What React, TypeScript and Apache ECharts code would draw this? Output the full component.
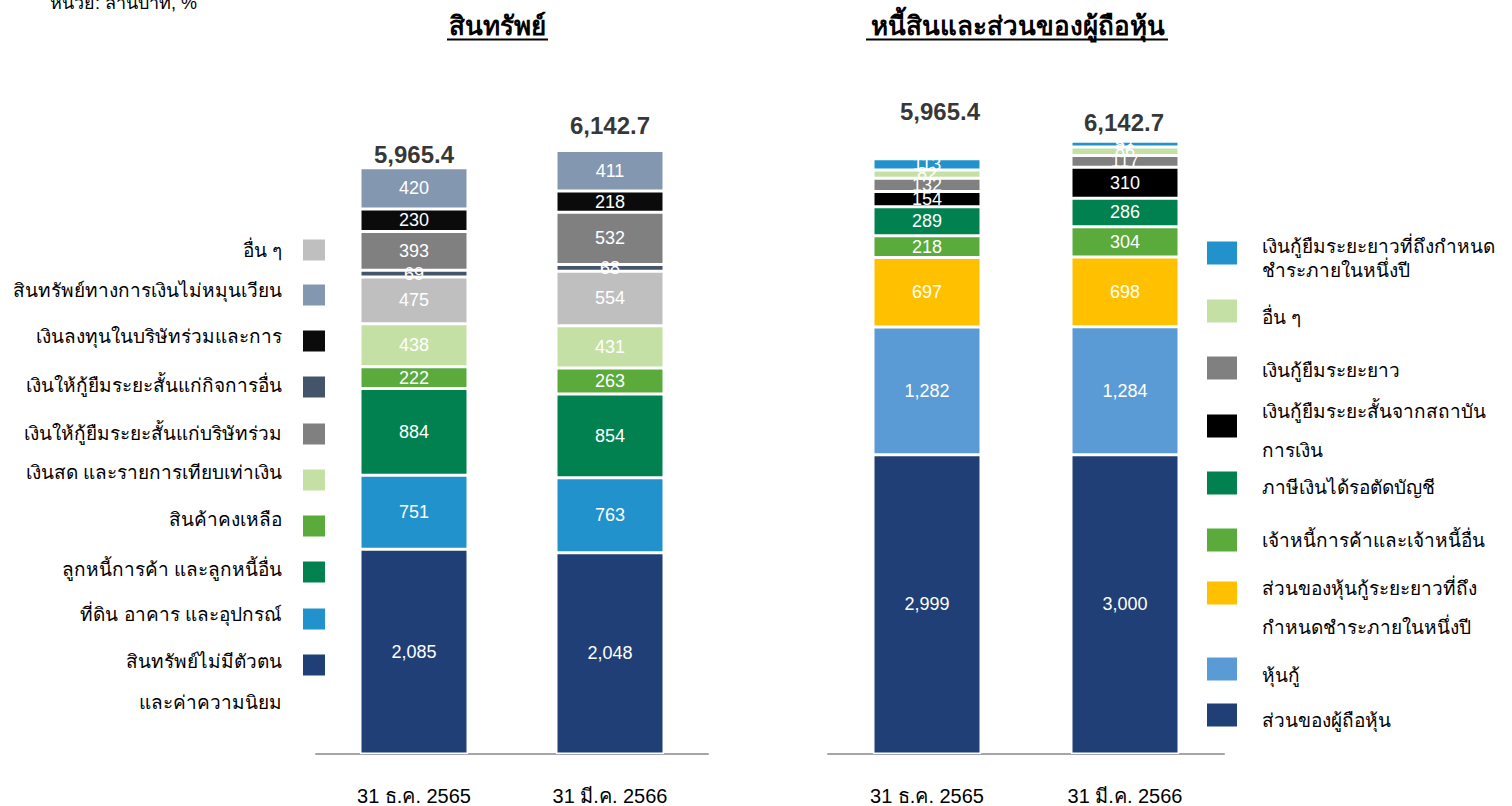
import React, { useEffect, useRef } from "react";
import * as echarts from "echarts";

// ---------- data ----------
const categories = ["31 ธ.ค. 2565", "31 มี.ค. 2566"];

// Assets (bottom -> top)
const assetNames = [
  "สินทรัพย์ไม่มีตัวตน\nและค่าความนิยม",
  "ที่ดิน อาคาร และอุปกรณ์",
  "ลูกหนี้การค้า และลูกหนี้อื่น",
  "สินค้าคงเหลือ",
  "เงินสด และรายการเทียบเท่าเงิน",
  "อื่น ๆ",
  "เงินให้กู้ยืมระยะสั้นแก่กิจการอื่น",
  "เงินให้กู้ยืมระยะสั้นแก่บริษัทร่วม",
  "เงินลงทุนในบริษัทร่วมและการ",
  "สินทรัพย์ทางการเงินไม่หมุนเวียน",
];
const intangibles = [2085, 2048];
const ppe = [751, 763];
const receivables = [884, 854];
const inventory = [222, 263];
const cash = [438, 431];
const otherAssets = [475, 554];
const loansOther = [69, 68];
const loansAssociates = [393, 532];
const investments = [230, 218];
const finAssets = [420, 411];
const assetValues = [intangibles, ppe, receivables, inventory, cash, otherAssets, loansOther, loansAssociates, investments, finAssets];
const assetTotals = [5965.4, 6142.7];

// Liabilities & equity (bottom -> top)
const liabNames = [
  "ส่วนของผู้ถือหุ้น",
  "หุ้นกู้",
  "ส่วนของหุ้นกู้ระยะยาวที่ถึง\nกำหนดชำระภายในหนึ่งปี",
  "เจ้าหนี้การค้าและเจ้าหนี้อื่น",
  "ภาษีเงินได้รอตัดบัญชี",
  "เงินกู้ยืมระยะสั้นจากสถาบัน\nการเงิน",
  "เงินกู้ยืมระยะยาว",
  "อื่น ๆ ",
  "เงินกู้ยืมระยะยาวที่ถึงกำหนด\nชำระภายในหนึ่งปี",
];
const equity = [2999, 3000];
const debentures = [1282, 1284];
const currentDebentures = [697, 698];
const payables = [218, 304];
const deferredTax = [289, 286];
const shortLoans = [154, 310];
const longLoans = [132, 117];
const otherLiab = [82, 86];
const currentLongLoans = [113, 57];
const liabValues = [equity, debentures, currentDebentures, payables, deferredTax, shortLoans, longLoans, otherLiab, currentLongLoans];
const liabTotals = [5965.4, 6142.7];

// ---------- styles ----------
const assetColors = ["#1F3F76", "#2192CB", "#00814F", "#5AAA3C", "#C5E0A5", "#BFBFBF", "#44546A", "#808080", "#0B0B0B", "#8497B0"];
const liabColors = ["#1F3F76", "#5B9BD5", "#FFC000", "#5AAA3C", "#00814F", "#000000", "#808080", "#C5E0A5", "#2192CB"];

// legend layout (indices into series arrays, top -> bottom)
const leftLegendOrder = [5, 9, 8, 6, 7, 4, 3, 2, 1, 0];
const leftSwatchY = [250, 295, 341, 387, 434, 480, 526, 572, 619, 665];
const leftTextY = [250, 290, 336, 385, 433, 472, 519, 569, 614, 661];
const rightLegendOrder = [8, 7, 6, 5, 4, 3, 2, 1, 0];
const rightSwatchY = [253, 311, 368, 426, 483, 540, 593, 669, 715];
const rightTextY = [246, 317, 370, 411, 487, 540, 588, 675, 720];
const rightLineGap = [24, 0, 0, 39, 0, 0, 39, 0, 0];

const totalOffsetsLeft = [[0, -13], [0, -25]];
const totalOffsetsRight = [[13, -47], [-1, -19]];

const FONT = "'Liberation Sans', Arial, sans-serif";
const fmt = (v: number) => v.toLocaleString("en-US");
const fmtTotal = (v: number) => v.toLocaleString("en-US", { minimumFractionDigits: 1, maximumFractionDigits: 1 });

export default function App() {
  const ref = useRef<HTMLDivElement>(null);
  useEffect(() => {
    if (!ref.current) return;
    const chart = echarts.init(ref.current, null, { renderer: "svg" });

    const mkBars = (names: string[], values: number[][], colors: string[], idx: number, stack: string) =>
      values.map((vals, i) => ({
        type: "bar",
        name: names[i],
        stack,
        xAxisIndex: idx,
        yAxisIndex: idx,
        barWidth: 108,
        data: vals,
        itemStyle: { color: colors[i], borderColor: "#ffffff", borderWidth: 1.5 },
        label: {
          show: true,
          position: "inside",
          color: "#ffffff",
          textBorderWidth: 0,
          fontSize: 18,
          fontFamily: FONT,
          formatter: (p: any) => fmt(p.value),
        },
      }));

    const mkTotals = (totals: number[], offsets: number[][], idx: number) => ({
      type: "scatter",
      xAxisIndex: idx,
      yAxisIndex: idx,
      symbolSize: 0,
      silent: true,
      itemStyle: { color: "#000000" },
      data: totals.map((t, i) => ({
        value: t,
        label: { offset: offsets[i] },
      })),
      label: {
        show: true,
        position: "inside",
        color: "#000000",
        textBorderWidth: 0,
        textBorderColor: "transparent",
        fontSize: 24,
        fontWeight: "bold",
        fontFamily: FONT,
        formatter: (p: any) => fmtTotal(p.value),
      },
    });

    const graphics: any[] = [];
    graphics.push({
      type: "text",
      x: 50,
      y: 3,
      style: { text: "หน่วย: ล้านบาท, %", fontSize: 18, fontFamily: FONT, fill: "#000", verticalAlign: "middle" },
    });
    const titles = [
      { t: "สินทรัพย์", cx: 497, x1: 447, x2: 548 },
      { t: "หนี้สินและส่วนของผู้ถือหุ้น", cx: 1018, x1: 866, x2: 1168 },
    ];
    titles.forEach((tt) => {
      graphics.push({
        type: "text",
        x: tt.cx,
        y: 26,
        style: { text: tt.t, fontSize: 26, fontWeight: "bold", fontFamily: FONT, fill: "#000", align: "center", verticalAlign: "middle" },
      });
      graphics.push({
        type: "line",
        shape: { x1: tt.x1, y1: 39.5, x2: tt.x2, y2: 39.5 },
        style: { stroke: "#000", lineWidth: 2 },
      });
    });
    leftLegendOrder.forEach((si, k) => {
      graphics.push({
        type: "rect",
        shape: { x: 303, y: leftSwatchY[k] - 10.5, width: 22, height: 21 },
        style: { fill: assetColors[si] },
      });
      const lines = assetNames[si].split("\n");
      lines.forEach((ln, j) => {
        graphics.push({
          type: "text",
          x: 282,
          y: leftTextY[k] + j * 41,
          style: { text: ln, fontSize: 19, fontFamily: FONT, fill: "#000", align: "right", verticalAlign: "middle" },
        });
      });
    });
    rightLegendOrder.forEach((si, k) => {
      graphics.push({
        type: "rect",
        shape: { x: 1207, y: rightSwatchY[k] - 11.5, width: 30, height: 23 },
        style: { fill: liabColors[si] },
      });
      const lines = liabNames[si].split("\n");
      lines.forEach((ln, j) => {
        graphics.push({
          type: "text",
          x: 1262,
          y: rightTextY[k] + j * rightLineGap[k],
          style: { text: ln, fontSize: 19, fontFamily: FONT, fill: "#000", align: "left", verticalAlign: "middle" },
        });
      });
    });

    chart.setOption({
      animation: false,
      backgroundColor: "#ffffff",
      grid: [
        { left: 316, width: 392, top: 66.2, bottom: 51 },
        { left: 828, width: 396, top: 55.7, bottom: 51 },
      ],
      xAxis: [0, 1].map((i) => ({
        type: "category",
        gridIndex: i,
        data: categories,
        axisLine: { lineStyle: { color: "#A6A6A6", width: 2 } },
        axisTick: { show: false },
        axisLabel: { margin: 32, fontSize: 20, color: "#000", fontFamily: "'Liberation Sans Narrow', 'Liberation Sans', Arial, sans-serif" },
      })),
      yAxis: [0, 1].map((i) => ({
        type: "value",
        gridIndex: i,
        min: 0,
        max: 7000,
        show: false,
        splitLine: { show: false },
      })),
      series: [
        ...mkBars(assetNames, assetValues, assetColors, 0, "assets"),
        mkTotals(assetTotals, totalOffsetsLeft, 0),
        ...mkBars(liabNames, liabValues, liabColors, 1, "liab"),
        mkTotals(liabTotals, totalOffsetsRight, 1),
      ],
      graphic: graphics,
    });
    return () => chart.dispose();
  }, []);
  return <div ref={ref} style={{ position: "fixed", left: 0, top: 0, width: 1512, height: 806 }} />;
}
